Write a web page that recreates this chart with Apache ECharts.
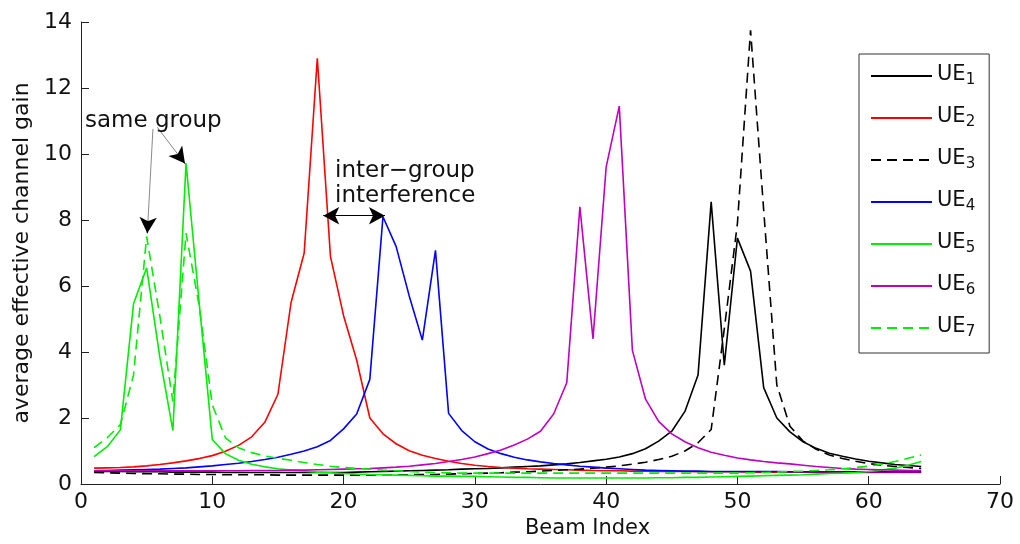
<!DOCTYPE html>
<html>
<head>
<meta charset="utf-8">
<script src="https://cdn.jsdelivr.net/npm/echarts@6/dist/echarts.min.js"></script>
<style>
  html, body { margin: 0; padding: 0; background: #fff; }
  #chart { width: 1020px; height: 544px; }
</style>
</head>
<body>
<div id="chart"></div>
<script>
// ---- data ----
const beamIndex = [];
for (let i = 1; i <= 64; i++) beamIndex.push(i);

const ue1 = [0.38,0.38,0.38,0.37,0.37,0.37,0.36,0.36,0.36,0.36,0.35,0.35,0.35,0.35,0.35,0.35,0.35,0.35,0.35,0.35,
  0.36,0.37,0.38,0.39,0.40,0.41,0.42,0.43,0.45,0.46,0.47,0.49,0.51,0.53,0.55,0.58,0.61,0.65,0.70,0.75,
  0.82,0.92,1.07,1.30,1.60,2.20,3.30,8.55,3.60,7.45,6.45,2.92,2.00,1.58,1.28,1.08,0.93,0.84,0.76,0.69,
  0.64,0.59,0.56,0.53];
const ue2 = [0.48,0.49,0.50,0.52,0.55,0.59,0.64,0.70,0.77,0.86,0.99,1.17,1.43,1.87,2.72,5.50,7.00,12.90,6.90,5.10,
  3.75,2.00,1.52,1.22,1.01,0.87,0.77,0.69,0.62,0.57,0.53,0.50,0.48,0.46,0.45,0.44,0.43,0.42,0.41,0.40,
  0.40,0.39,0.39,0.38,0.38,0.38,0.37,0.37,0.37,0.37,0.36,0.36,0.36,0.36,0.36,0.36,0.35,0.35,0.35,0.35,
  0.35,0.35,0.35,0.35];
const ue3 = [0.35,0.34,0.33,0.32,0.31,0.31,0.30,0.30,0.29,0.29,0.28,0.28,0.28,0.28,0.27,0.27,0.27,0.27,0.27,0.27,
  0.27,0.27,0.28,0.28,0.28,0.29,0.29,0.30,0.31,0.32,0.33,0.34,0.36,0.37,0.39,0.41,0.43,0.45,0.48,0.51,
  0.55,0.60,0.66,0.74,0.84,1.00,1.25,1.65,4.70,7.90,13.75,8.30,3.00,1.75,1.30,1.05,0.88,0.77,0.69,0.62,
  0.57,0.53,0.50,0.47];
const ue4 = [0.40,0.41,0.42,0.43,0.44,0.45,0.47,0.49,0.52,0.55,0.59,0.63,0.68,0.74,0.81,0.90,1.00,1.13,1.32,1.67,
  2.12,3.17,8.10,7.20,5.70,4.36,7.08,2.14,1.62,1.28,1.06,0.92,0.81,0.73,0.67,0.62,0.58,0.54,0.51,0.48,
  0.46,0.44,0.42,0.41,0.40,0.39,0.39,0.38,0.38,0.38,0.38,0.38,0.38,0.37,0.37,0.37,0.37,0.37,0.37,0.37,
  0.37,0.37,0.37,0.37];
const ue5 = [0.83,1.13,1.64,5.46,6.55,3.85,1.62,9.72,5.50,1.35,0.92,0.72,0.60,0.52,0.46,0.42,0.39,0.36,0.34,0.32,
  0.30,0.29,0.28,0.27,0.26,0.25,0.24,0.24,0.23,0.23,0.22,0.21,0.20,0.20,0.19,0.18,0.18,0.18,0.18,0.18,
  0.18,0.18,0.18,0.19,0.19,0.20,0.20,0.21,0.22,0.23,0.24,0.25,0.26,0.27,0.28,0.30,0.32,0.33,0.35,0.38,
  0.42,0.48,0.57,0.68];
const ue6 = [0.40,0.40,0.40,0.40,0.40,0.40,0.40,0.40,0.40,0.40,0.40,0.40,0.41,0.41,0.41,0.42,0.42,0.43,0.44,0.45,
  0.46,0.47,0.49,0.51,0.54,0.58,0.62,0.68,0.74,0.82,0.92,1.03,1.18,1.36,1.60,2.12,3.07,8.40,4.40,9.60,
  11.45,4.05,2.57,1.90,1.52,1.28,1.10,0.96,0.87,0.79,0.73,0.68,0.64,0.61,0.57,0.53,0.50,0.47,0.45,0.44,
  0.43,0.42,0.41,0.41];
const ue7 = [1.10,1.40,1.80,3.30,7.50,5.10,2.50,7.60,5.40,2.40,1.40,1.10,0.95,0.85,0.78,0.72,0.65,0.59,0.54,0.50,
  0.47,0.45,0.42,0.40,0.38,0.36,0.35,0.34,0.33,0.33,0.33,0.33,0.33,0.33,0.33,0.33,0.33,0.33,0.33,0.33,
  0.33,0.33,0.33,0.33,0.33,0.33,0.33,0.33,0.33,0.33,0.34,0.35,0.36,0.38,0.39,0.41,0.43,0.46,0.50,0.54,
  0.60,0.68,0.78,0.88];

const seriesNames = ['UE1','UE2','UE3','UE4','UE5','UE6','UE7'];
const seriesValues = [ue1, ue2, ue3, ue4, ue5, ue6, ue7];
const seriesColors = ['#000000','#ff0000','#000000','#0000ff','#00ee00','#c000c0','#00ee00'];
const seriesDash = ['solid','solid',[10,6],'solid','solid','solid',[10,6]];

const xTicks = [0,10,20,30,40,50,60,70];
const yTicks = [0,2,4,6,8,10,12,14];

// annotation anchors in data coordinates
const sameGroupArrows = [
  { from: [5.48, 10.76], to: [5.05, 7.6] },
  { from: [5.81, 10.81], to: [7.92, 9.71] }
];
const interArrow = { from: [18.45, 8.13], to: [23.15, 8.13] };
const annotTexts = [
  { text: 'same group', at: [0.3, 11.0] },
  { text: 'inter\u2212group', at: [19.35, 9.48] },
  { text: 'interference', at: [19.35, 8.72] }
];

// ---- chart ----
const FONT = '"DejaVu Sans", "Liberation Sans", Arial, sans-serif';
const chart = echarts.init(document.getElementById('chart'), null, { renderer: 'canvas' });

const series = seriesNames.map((name, k) => ({
  name: name,
  type: 'line',
  data: beamIndex.map((b, i) => [b, seriesValues[k][i]]),
  symbol: 'none',
  showSymbol: false,
  smooth: false,
  lineStyle: { color: seriesColors[k], width: 1.6, type: seriesDash[k] },
  itemStyle: { color: seriesColors[k] },
  emphasis: { disabled: true },
  z: 2
}));

const markData = [];
sameGroupArrows.forEach(a => {
  markData.push([
    { coord: a.from, symbol: 'none', lineStyle: { color: '#8a8a8a', width: 1 } },
    { coord: a.to, symbol: 'none' }
  ]);
  const t = 0.12;
  const near = [a.to[0] + (a.from[0] - a.to[0]) * t, a.to[1] + (a.from[1] - a.to[1]) * t];
  markData.push([
    { coord: near, symbol: 'none', lineStyle: { color: '#000', width: 1 } },
    { coord: a.to, symbol: 'arrow', symbolSize: [13, 16] }
  ]);
});
markData.push([
  { coord: interArrow.from, symbol: 'arrow', symbolSize: [13, 16], lineStyle: { color: '#000', width: 1.2 } },
  { coord: interArrow.to, symbol: 'arrow', symbolSize: [13, 16] }
]);

series.push({
  name: 'annotations',
  type: 'line',
  data: [],
  silent: true,
  markLine: {
    silent: true,
    animation: false,
    symbol: ['none', 'arrow'],
    label: { show: false },
    lineStyle: { type: 'solid', width: 1, color: '#000' },
    emphasis: { disabled: true },
    data: markData
  }
});

const option = {
  animation: false,
  backgroundColor: '#ffffff',
  textStyle: { fontFamily: FONT },
  grid: { left: 81, right: 20, top: 22, bottom: 53, containLabel: false },
  xAxis: {
    type: 'value',
    min: 0, max: 70, interval: 10,
    name: 'Beam Index',
    nameLocation: 'middle',
    nameGap: 34,
    nameTextStyle: { fontFamily: FONT, fontSize: 21, color: '#111', padding: [0, 0, 0, 94] },
    axisLine: { show: true, onZero: false, lineStyle: { color: '#222', width: 1 } },
    axisTick: { show: true, inside: true, length: 8, lineStyle: { color: '#222' } },
    axisLabel: { fontFamily: FONT, fontSize: 22, color: '#111', margin: 7,
      formatter: v => xTicks.indexOf(v) >= 0 ? String(v) : '' },
    splitLine: { show: false }
  },
  yAxis: {
    type: 'value',
    min: 0, max: 14, interval: 2,
    name: 'average effective channel gain',
    nameLocation: 'middle',
    nameGap: 46,
    nameTextStyle: { fontFamily: FONT, fontSize: 22, color: '#111' },
    axisLine: { show: true, lineStyle: { color: '#222', width: 1 } },
    axisTick: { show: true, inside: true, length: 8, lineStyle: { color: '#222' } },
    axisLabel: { fontFamily: FONT, fontSize: 22, color: '#111', margin: 9,
      formatter: v => yTicks.indexOf(v) >= 0 ? String(v) : '' },
    splitLine: { show: false }
  },
  legend: {
    data: seriesNames,
    orient: 'vertical',
    left: 859, top: 54,
    backgroundColor: '#ffffff',
    borderColor: '#333',
    borderWidth: 1,
    borderRadius: 0,
    padding: [10, 14, 13, 11],
    itemWidth: 61,
    itemHeight: 2,
    itemGap: 18,
    selectedMode: false,
    itemStyle: { color: 'rgba(0,0,0,0)', borderColor: 'rgba(0,0,0,0)', borderWidth: 0 },
    formatter: n => '{a|UE}{b|' + n.slice(2) + '}',
    textStyle: {
      fontFamily: FONT,
      color: '#111',
      rich: {
        a: { fontFamily: FONT, fontSize: 21, color: '#111', verticalAlign: 'top', lineHeight: 24 },
        b: { fontFamily: FONT, fontSize: 15, color: '#111', verticalAlign: 'bottom', lineHeight: 12 }
      }
    }
  },
  series: series
};

chart.setOption(option);

// annotation texts positioned from data coordinates
const graphics = annotTexts.map(t => {
  const p = chart.convertToPixel({ gridIndex: 0 }, t.at);
  return {
    type: 'text',
    x: p[0], y: p[1],
    silent: true,
    z: 10,
    style: {
      text: t.text,
      fontFamily: FONT,
      fontSize: 23,
      fill: '#111',
      align: 'left',
      verticalAlign: 'middle'
    }
  };
});
chart.setOption({ graphic: graphics });
</script>
</body>
</html>
